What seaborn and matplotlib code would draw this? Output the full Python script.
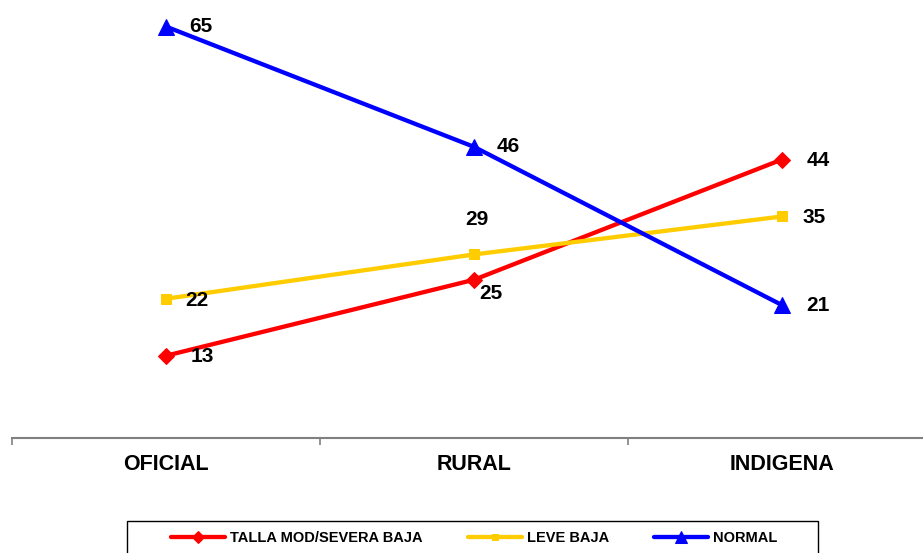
import pandas as pd
import matplotlib.pyplot as plt
import seaborn as sns
from matplotlib.patches import Rectangle

categorias = ["OFICIAL", "RURAL", "INDIGENA"]
series = ["TALLA MOD/SEVERA BAJA", "LEVE BAJA", "NORMAL"]
talla_mod_severa = [13, 25, 44]
leve_baja = [22, 29, 35]
normal = [65, 46, 21]

colores = {"TALLA MOD/SEVERA BAJA": "#FF0000", "LEVE BAJA": "#FFCC00", "NORMAL": "#0000FF"}
marcadores = {"TALLA MOD/SEVERA BAJA": "D", "LEVE BAJA": "s", "NORMAL": "^"}
tamanos = {"TALLA MOD/SEVERA BAJA": 8.5, "LEVE BAJA": 6.5, "NORMAL": 11}
# label offsets in pixels (dx, dy; dy positive = down)
offsets = {
    "TALLA MOD/SEVERA BAJA": [(36, 1), (17, 14), (36, 1)],
    "LEVE BAJA": [(31, 2), (3, -35), (32, 1)],
    "NORMAL": [(35, 0), (34, 0), (36, 0)],
}

df = pd.DataFrame({
    "categoria": categorias * 3,
    "pos": list(range(3)) * 3,
    "valor": talla_mod_severa + leve_baja + normal,
    "serie": [s for s in series for _ in categorias],
})

sns.set_style("white")
plt.rcParams["font.family"] = ["Liberation Sans", "DejaVu Sans"]
plt.rcParams["text.color"] = "black"
plt.rcParams["xtick.color"] = "black"

fig = plt.figure(figsize=(9.23, 5.53), dpi=100)
ax = fig.add_axes([12 / 923, (553 - 438) / 553, 924 / 923, 438 / 553])

for s in series:
    d = df[df["serie"] == s]
    sns.lineplot(
        data=d, x="pos", y="valor", ax=ax, color=colores[s], linewidth=3.1,
        marker=marcadores[s], markersize=tamanos[s], markeredgecolor=colores[s],
        label=s, legend=False,
    )
    for (x, y), (dx, dy) in zip(zip(d["pos"], d["valor"]), offsets[s]):
        ax.annotate(str(y), (x, y), xytext=(dx * 0.72, -dy * 0.72),
                    textcoords="offset points", ha="center", va="center",
                    fontsize=15, fontweight="bold", color="black")

ax.set_xlim(-0.5, 2.5)
ax.set_ylim(0, 69.2)
ax.set_xticks(range(3))
ax.set_xticklabels(categorias, fontsize=15.5, fontweight="bold", color="black")
ax.set_xticks([-0.5, 0.5, 1.5, 2.5], minor=True)
ax.tick_params(axis="x", which="major", length=0, pad=11.5)
ax.tick_params(axis="x", which="minor", length=5, color="#808080", width=1.2, direction="out", bottom=True)
ax.set_yticks([])
ax.set_xlabel("")
ax.set_ylabel("")
for side in ["top", "right", "left"]:
    ax.spines[side].set_visible(False)
ax.spines["bottom"].set_color("#808080")
ax.spines["bottom"].set_linewidth(1.5)

# legend frame
fig.patches.append(Rectangle((127 / 923, -0.05), 691 / 923, (553 - 521) / 553 + 0.05,
                             transform=fig.transFigure, fill=False,
                             edgecolor="black", linewidth=1))

handles, labels = ax.get_legend_handles_labels()
leg = fig.legend(
    handles, labels, loc="center left", ncol=3,
    bbox_to_anchor=(171 / 923, (553 - 538) / 553),
    prop={"weight": "bold", "size": 10.5}, frameon=False,
    handlelength=3.7, handletextpad=0.35, borderaxespad=0, borderpad=0,
    columnspacing=3.1, markerscale=0.75,
)

fig.savefig("out.png", dpi=100)
